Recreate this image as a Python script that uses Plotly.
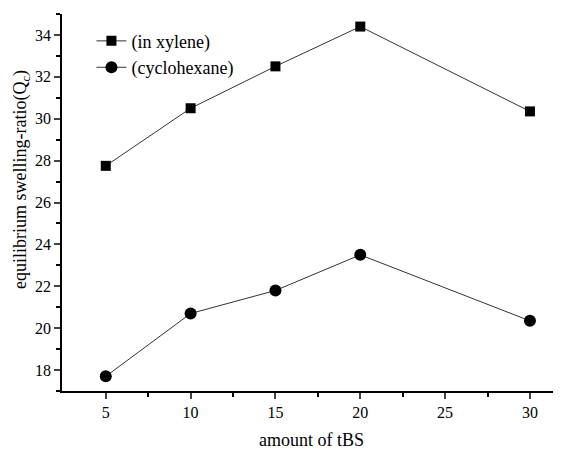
import plotly.graph_objects as go

x_tbs = [5, 10, 15, 20, 30]
xylene = [27.75, 30.5, 32.5, 34.4, 30.35]
cyclohexane = [17.7, 20.7, 21.8, 23.5, 20.35]
x_ticks = [5, 10, 15, 20, 25, 30]
y_ticks = [18, 20, 22, 24, 26, 28, 30, 32, 34]

font = "Liberation Serif"

fig = go.Figure()
fig.add_trace(go.Scatter(
    x=x_tbs, y=xylene, mode="lines+markers", name="(in xylene)",
    line=dict(color="#333333", width=1),
    marker=dict(symbol="square", size=10, color="black"),
))
fig.add_trace(go.Scatter(
    x=x_tbs, y=cyclohexane, mode="lines+markers", name="(cyclohexane)",
    line=dict(color="#333333", width=1),
    marker=dict(symbol="circle", size=12, color="black"),
))

# page body has an 8px default margin, so the figure is 8px smaller
fig.update_layout(
    width=553, height=442,
    margin=dict(l=54, r=0, t=6, b=59),
    paper_bgcolor="white", plot_bgcolor="white",
    font=dict(family=font, size=16, color="black"),
    showlegend=True,
    legend=dict(x=0.059, y=0.977, xanchor="left", yanchor="top",
                bgcolor="rgba(0,0,0,0)", font=dict(family=font, size=18),
                tracegroupgap=0, itemwidth=30),
    xaxis=dict(
        range=[2.42, 31.83], tickvals=x_ticks, ticks="outside", ticklen=6,
        tickwidth=1.5, showline=True, linecolor="black", linewidth=1.5,
        showgrid=False, zeroline=False, automargin=False,
        minor=dict(tickvals=[7.5, 12.5, 17.5, 22.5, 27.5], ticks="outside", ticklen=4, tickwidth=1.5, tickcolor="black"),
        title=dict(text="amount of tBS", font=dict(family=font, size=18), standoff=14),
        tickfont=dict(family=font, size=16),
    ),
    yaxis=dict(
        range=[17.0, 35.0], tickvals=y_ticks, ticks="outside", ticklen=6,
        tickwidth=1.5, showline=True, linecolor="black", linewidth=1.5,
        showgrid=False, zeroline=False, automargin=False,
        minor=dict(tickvals=[17, 19, 21, 23, 25, 27, 29, 31, 33, 35], ticks="outside", ticklen=4, tickwidth=1.5, tickcolor="black"),
        tickfont=dict(family=font, size=16),
    ),
    annotations=[dict(
        text="equilibrium swelling-ratio(Q<sub>c</sub>)", textangle=-90,
        xref="paper", yref="paper", x=-0.08, y=0.56,
        xanchor="center", yanchor="middle", showarrow=False,
        font=dict(family=font, size=18),
    )],
)

fig.write_html("out.html")
